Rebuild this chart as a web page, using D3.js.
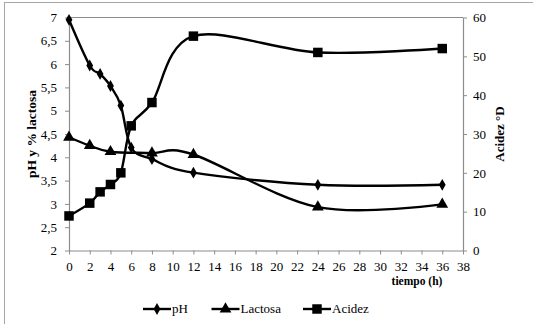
<!DOCTYPE html>
<html>
<head>
<meta charset="utf-8">
<script src="https://cdn.jsdelivr.net/npm/d3@7"></script>
<style>
  html, body { margin: 0; padding: 0; background: #fff; }
  svg { display: block; }
  svg text { font-family: "Liberation Serif", Tinos, "Times New Roman", Times, "DejaVu Serif", serif !important; }
</style>
</head>
<body>
<svg id="chart" width="533" height="324"></svg>
<script>
// ---- Data ----
const phTime = [0, 2, 3, 4, 5, 6, 8, 12, 24, 36];
const phValues = [6.95, 5.97, 5.79, 5.53, 5.11, 4.21, 3.96, 3.67, 3.41, 3.41];

const lactosaTime = [0, 2, 4, 8, 12, 24, 36];
const lactosaValues = [4.43, 4.25, 4.12, 4.09, 4.06, 2.93, 2.99];

const acidezTime = [0, 2, 3, 4, 5, 6, 8, 12, 24, 36];
const acidezValues = [8.9, 12.2, 15.1, 17.0, 20.0, 32.1, 38.1, 55.2, 51.0, 52.0];

const xTicks = d3.range(0, 39, 2);
const leftTicks = d3.range(2, 7.01, 0.5);
const rightTicks = [0, 10, 20, 30, 40, 50, 60];

const seriesNames = ["pH", "Lactosa", "Acidez"];

// ---- Layout ----
const svg = d3.select("#chart");
const pLeft = 69, pRight = 463, pTop = 17.5, pBottom = 250.5;

const x = d3.scaleLinear().domain([0, 38]).range([pLeft, pRight]);
const yL = d3.scaleLinear().domain([2, 7]).range([pBottom, pTop]);
const yR = d3.scaleLinear().domain([0, 60]).range([pBottom, pTop]);

const axisColor = "#8c8c8c";
const fontFam = '"Liberation Serif", Tinos, "Times New Roman", Times, "DejaVu Serif", serif';
const fmt = d => String(d).replace(".", ",");

// outer chart border
svg.append("rect").attr("x", 4.5).attr("y", 2.5).attr("width", 600).attr("height", 400)
  .attr("fill", "none").attr("stroke", "#a6a6a6").attr("stroke-width", 1);

// plot area top border
svg.append("line").attr("x1", pLeft).attr("x2", pRight).attr("y1", pTop).attr("y2", pTop)
  .attr("stroke", axisColor).attr("stroke-width", 1);

function styleAxis(g) {
  g.attr("font-family", fontFam).attr("font-size", 13);
  g.select(".domain").attr("stroke", axisColor).attr("stroke-width", 1.2);
  g.selectAll(".tick line").attr("stroke", axisColor).attr("stroke-width", 1);
  g.selectAll(".tick text").attr("fill", "#000").attr("font-family", fontFam).style("font-size", "13px");
}

// x axis
svg.append("g").attr("transform", `translate(0,${pBottom})`)
  .call(d3.axisBottom(x).tickValues(xTicks).tickSize(4).tickSizeOuter(0).tickPadding(7).tickFormat(d => d))
  .call(styleAxis);

// left axis
svg.append("g").attr("transform", `translate(${pLeft},0)`)
  .call(d3.axisLeft(yL).tickValues(leftTicks).tickSize(4).tickSizeOuter(0).tickPadding(8).tickFormat(fmt))
  .call(styleAxis);

// right axis
svg.append("g").attr("transform", `translate(${pRight},0)`)
  .call(d3.axisRight(yR).tickValues(rightTicks).tickSize(4).tickSizeOuter(0).tickPadding(6).tickFormat(d => d))
  .call(styleAxis);

// axis titles
svg.append("text").attr("transform", `translate(36,${(pTop + pBottom) / 2}) rotate(-90)`)
  .attr("text-anchor", "middle").attr("font-family", fontFam)
  .style("font-size", "13.5px").style("font-weight", "bold")
  .text("pH y % lactosa");
svg.append("text").attr("transform", `translate(504,${(pTop + pBottom) / 2}) rotate(-90)`)
  .attr("text-anchor", "middle").attr("font-family", fontFam)
  .style("font-size", "13px").style("font-weight", "bold")
  .text("Acidez °D");
svg.append("text").attr("x", 417).attr("y", 285).attr("text-anchor", "middle")
  .attr("font-family", fontFam)
  .style("font-size", "11.5px").style("font-weight", "bold").text("tiempo (h)");

// ---- Series ----
const curve = d3.curveCardinal.tension(0);
const symbols = [d3.symbolDiamond, d3.symbolTriangle, d3.symbolSquare];
const symSizes = [40, 60, 90];

const series = [
  { name: seriesNames[0], t: phTime, v: phValues, y: yL, sym: 0 },
  { name: seriesNames[1], t: lactosaTime, v: lactosaValues, y: yL, sym: 1 },
  { name: seriesNames[2], t: acidezTime, v: acidezValues, y: yR, sym: 2 }
];

series.forEach(s => {
  const pts = s.t.map((t, i) => [x(t), s.y(s.v[i])]);
  svg.append("path").attr("d", d3.line().curve(curve)(pts))
    .attr("fill", "none").attr("stroke", "#000").attr("stroke-width", 2.4);
  svg.append("g").selectAll("path").data(pts).join("path")
    .attr("transform", d => `translate(${d[0]},${d[1]})`)
    .attr("d", d3.symbol().type(symbols[s.sym]).size(symSizes[s.sym]))
    .attr("fill", "#000");
});

// ---- Legend ----
const legendY = 309;
const legendX = [143, 211.5, 303];
series.forEach((s, i) => {
  const g = svg.append("g").attr("transform", `translate(${legendX[i]},${legendY})`);
  g.append("line").attr("x1", 0).attr("x2", 28).attr("y1", 0).attr("y2", 0)
    .attr("stroke", "#000").attr("stroke-width", 2.4);
  g.append("path").attr("transform", "translate(14,0)")
    .attr("d", d3.symbol().type(symbols[s.sym]).size(symSizes[s.sym]))
    .attr("fill", "#000");
  g.append("text").attr("x", 29).attr("y", 4).attr("font-family", fontFam)
    .style("font-size", "13px").text(s.name);
});
</script>
</body>
</html>
